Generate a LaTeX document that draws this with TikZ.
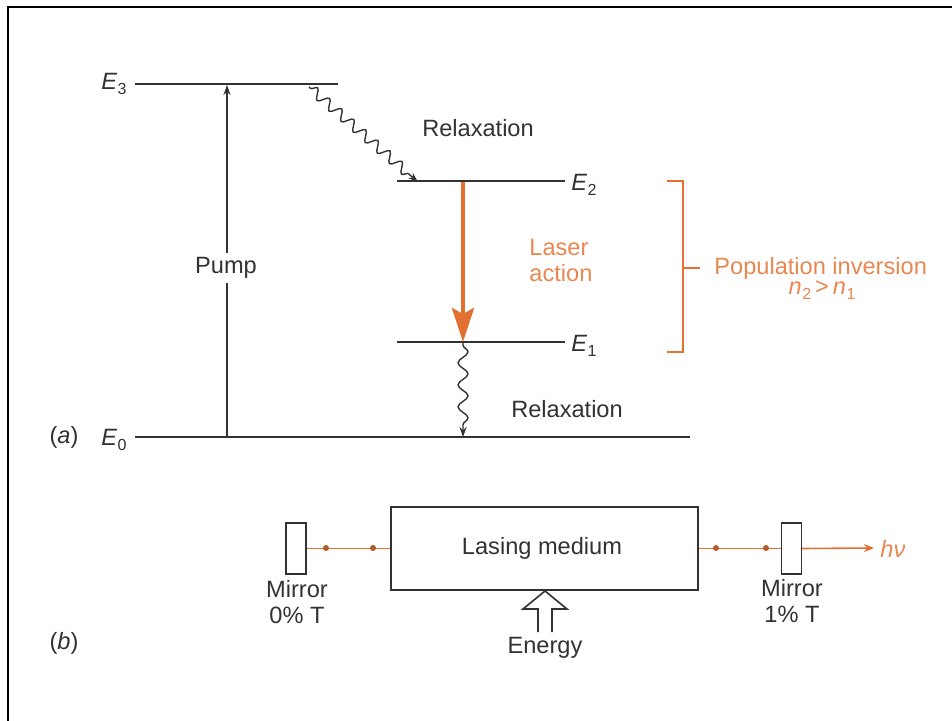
\documentclass[tikz,border=0pt]{standalone}
\usepackage{fontspec}
\setmainfont{Liberation Sans}
\usetikzlibrary{arrows.meta,decorations.pathmorphing}
\definecolor{laser}{RGB}{226,112,48}
\definecolor{lasertxt}{RGB}{232,135,80}
\definecolor{ink}{RGB}{50,50,50}
\begin{document}
\begin{tikzpicture}[x=0.5pt,y=-0.5pt,
  every node/.style={font=\fontsize{11.8}{14}\selectfont, text=ink, inner sep=1pt},
  level/.style={draw=ink, line width=0.7pt},
  wave/.style={draw=ink, line width=0.7pt, decorate,
     decoration={snake, amplitude=2.5pt, segment length=#1, post length=4pt, pre length=1pt}},
  beam/.style={draw=laser, line width=0.8pt},
  bdot/.style={circle, fill=laser!80!black, inner sep=0pt, minimum size=3pt},
  mirror/.style={draw=ink, line width=0.7pt, fill=white, minimum width=10pt, minimum height=25.5pt, inner sep=0pt}
]
\useasboundingbox (0,0) rectangle (952,721);
% frame
\draw[line width=0.8pt, black] (8,721) -- (8,7) -- (952,7);

% ---- (a) energy levels ----
\coordinate (e3l) at (135,84);  \coordinate (e3r) at (338,84);
\coordinate (e2l) at (397,181); \coordinate (e2r) at (565,181);
\coordinate (e1l) at (397,342); \coordinate (e1r) at (565,342);
\coordinate (e0l) at (135,437); \coordinate (e0r) at (690,437);
\draw[level] (e3l) -- (e3r);
\draw[level] (e2l) -- (e2r);
\draw[level] (e1l) -- (e1r);
\draw[level] (e0l) -- (e0r);
\node (E3) at (114,84) {\itshape E\kern0.3pt\raisebox{-0.35ex}{\upshape\footnotesize 3}};
\node (E2) at (584,185) {\itshape E\kern0.3pt\raisebox{-0.35ex}{\upshape\footnotesize 2}};
\node (E1) at (584,346) {\itshape E\kern0.3pt\raisebox{-0.35ex}{\upshape\footnotesize 1}};
\node (E0) at (114,440) {\itshape E\kern0.3pt\raisebox{-0.35ex}{\upshape\footnotesize 0}};
\node (la) at (64,437) {(\textit{a})};

% pump
\coordinate (pb) at (227,437); \coordinate (pt) at (227,85);
\draw[draw=ink, line width=0.6pt, -{Stealth[length=5pt,width=3.5pt]}] (pb) -- (pt);
\node[fill=white, inner sep=2pt] (pump) at (226,268) {Pump};

% upper relaxation
\coordinate (w1s) at (309,87); \coordinate (w1e) at (418,182);
\draw[wave=8pt, -{Stealth[length=5pt,width=3.5pt]}] (w1s) -- (w1e);
\node (rel1) at (478,128) {Relaxation};

% laser action
\coordinate (ls) at (463,182); \coordinate (le) at (463,342);
\draw[draw=laser, line width=2pt, -{Stealth[length=17pt,width=11pt,inset=3pt]}] (ls) -- (le);
\node[text=lasertxt, align=left, anchor=west] (lact) at (527,260) {Laser\\[-1pt]action};

% lower relaxation
\coordinate (w2s) at (463,343); \coordinate (w2e) at (463,437);
\draw[wave=11pt, -{Stealth[length=5pt,width=3.5pt]}] (w2s) -- (w2e);
\node (rel2) at (567,409) {Relaxation};

% bracket
\coordinate (bt) at (683,181); \coordinate (bb) at (683,352);
\coordinate (bm) at (683,268);
\draw[draw=laser, line width=0.8pt] (667,181) -- (bt) -- (bb) -- (667,352);
\draw[draw=laser, line width=0.8pt] (bm) -- (700,268);
\node[text=lasertxt, anchor=west] (pop) at (712,268) {Population inversion};
\node[text=lasertxt] (ineq) at (822,290) {\itshape n\kern0.3pt\raisebox{-0.35ex}{\upshape\footnotesize 2}\,\upshape>\,\itshape n\kern0.3pt\raisebox{-0.35ex}{\upshape\footnotesize 1}};

% ---- (b) laser cavity ----
\node[draw=ink, line width=0.8pt, minimum width=153.5pt, minimum height=41.5pt, inner sep=0pt] (box) at (544.5,548.5) {};
\node (lm) at (542,548) {Lasing medium};
\node[mirror] (ml) at (296,548.5) {};
\node[mirror] (mr) at (791.5,548.5) {};

\draw[beam] (ml.east) -- (box.west);
\draw[beam] (box.east) -- (mr.west);
\node[bdot] at (326,548) {};
\node[bdot] at (373,548) {};
\node[bdot] at (716,548) {};
\node[bdot] at (766,548) {};
\coordinate (out) at (874,548);
\draw[beam, -{Stealth[length=5pt,width=4pt]}] (mr.east) -- (out);
\node[text=lasertxt, anchor=west] (hv) at (878,549) {\itshape hν};

\node[align=center] (mlt) at (297,602) {Mirror\\[-1pt]0\% T};
\node[align=center] (mrt) at (792,601) {Mirror\\[-1pt]1\% T};

% energy hollow arrow
\coordinate (tip) at (545,591);
\draw[draw=ink, line width=0.8pt, fill=white]
  (538,632) -- (538,609) -- (523,609) -- (tip) -- (567,609) -- (552,609) -- (552,632);
\node (en) at (545,648) {Energy};
\node (lb) at (64,643) {(\textit{b})};
\end{tikzpicture}
\end{document}
